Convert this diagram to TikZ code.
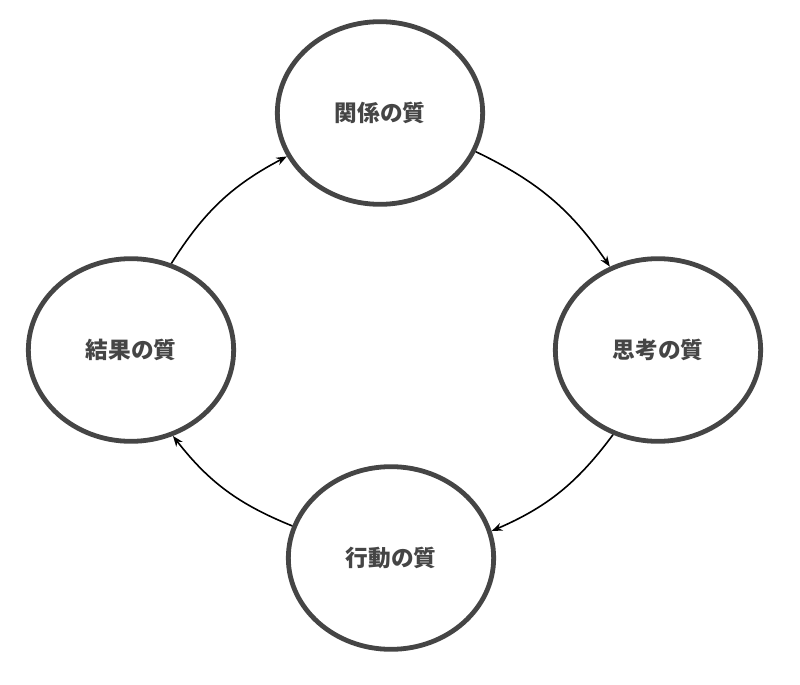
\documentclass[tikz,border=0pt]{standalone}
\usepackage{fontspec}
\newfontfamily\cjk{Noto Sans CJK JP}
\usetikzlibrary{shapes.geometric,arrows.meta}
\begin{document}
\begin{tikzpicture}[x=0.75pt,y=-0.75pt,
  q/.style={ellipse,draw=black!73,line width=3.6pt,minimum width=154pt,minimum height=137pt,inner sep=0pt,font=\cjk\bfseries\fontsize{17}{19}\selectfont,text=black!73},
  a/.style={-{Stealth[length=8pt,width=6pt]},line width=1.2pt,bend left=15}]
\useasboundingbox (0,0) rectangle (800,685);
\node[q] (top) at (380,113) {関係の質};
\node[q] (right) at (658,350) {思考の質};
\node[q] (bot) at (391,558) {行動の質};
\node[q] (left) at (131,350) {結果の質};
\draw[a] (top.-22) to (right.120);
\draw[a] (right.242) to (bot.15);
\draw[a] (bot.162) to (left.296);
\draw[a] (left.65) to (top.205);
\end{tikzpicture}
\end{document}
